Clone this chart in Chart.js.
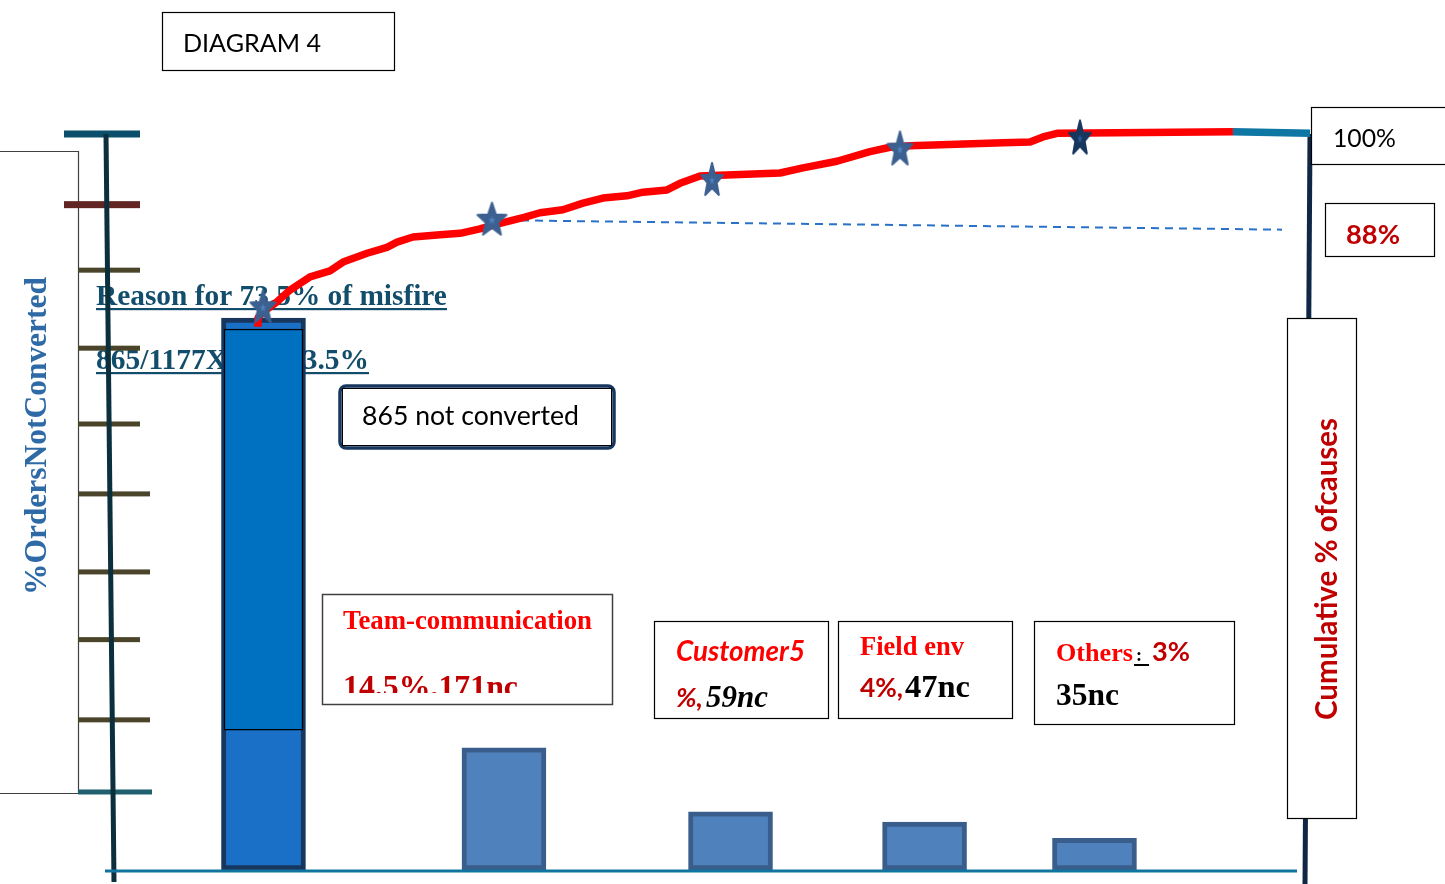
<!DOCTYPE html>
<html>
<head>
<meta charset="utf-8">
<title>Diagram 4</title>
<script src="https://cdn.jsdelivr.net/npm/chart.js@4.4.0/dist/chart.umd.min.js"></script>
<style>
  html, body { margin: 0; padding: 0; background: #fff; }
  #wrap { width: 1445px; height: 884px; position: relative; }
</style>
</head>
<body>
<div id="wrap"><canvas id="paretoChart" width="1445" height="884"></canvas></div>
<script>
//  Pareto sketch of the orders that were not converted (1177 orders)

//  Bars: where each cause sits on the sketch's horizontal scale (0..100) and its height in %
var causeNames = ['865 not converted', 'Team-communication', 'Customer', 'Field env', 'Others'];
var causePos = [12.79, 32.83, 51.71, 67.88, 82.04];
var barPct = [75.0, 16.6, 7.9, 6.5, 4.3];
//  the 73.5% block drawn inside the first bar (from .. to, in %)
var firstBarBlock = [19.0, 73.5];

//  Cumulative % line
var cumX = [12.33, 12.33, 12.75, 13.92, 15.0, 16.67, 18.33, 19.42, 21.42, 23.08, 23.92, 25.25,
            27.5, 29.17, 30.83, 31.92, 33.33, 34.58, 35.83, 37.75, 39.42, 41.08, 43.08, 44.42,
            46.42, 47.5, 49.17, 50.83, 55.83, 57.75, 60.58, 63.33, 65.0, 66.67, 74.42, 76.67,
            77.75, 78.92, 93.58, 100];
var cumY = [73.8, 75.0, 75.8, 77.2, 78.8, 80.6, 81.4, 82.6, 83.8, 84.6, 85.3, 86.0,
            86.3, 86.5, 87.1, 87.6, 88.2, 88.7, 89.3, 89.7, 90.6, 91.3, 91.6, 92.1,
            92.4, 93.3, 94.3, 94.4, 94.7, 95.4, 96.3, 97.6, 98.2, 98.4, 98.8, 98.9,
            99.6, 100.1, 100.3, 100.1];

//  Star markers on the cumulative line
var starX = [12.75, 31.83, 50.17, 65.83, 80.83];
var starY = [76.6, 88.5, 93.9, 98.1, 99.6];

//  Dashed 88% guide
var guideX = [31.92, 97.67];
var guideY = [88.3, 87.0];

//  Tick marks on the left axis (%)
var leftTicks = [10.6, 20.4, 31.3, 40.5, 51.1, 60.6, 70.9, 81.5, 90.4, 100];

var SERIF = '"Liberation Serif", "Times New Roman", serif';
var SANS = 'Lato, "Open Sans", sans-serif';

//  size a font so that text spans the given width
function fitFont(ctx, text, width, style, family) {
    ctx.font = style + ' 100px ' + family;
    var w = ctx.measureText(text).width;
    return style + ' ' + (100 * width / w).toFixed(2) + 'px ' + family;
}

function putText(ctx, text, x, y, width, style, family, color, underline) {
    ctx.font = fitFont(ctx, text, width, style, family);
    ctx.fillStyle = color;
    ctx.textAlign = 'left';
    ctx.textBaseline = 'alphabetic';
    ctx.fillText(text, x, y);
    if (underline) {
        ctx.fillRect(x, y + 3, width, 2.2);
    }
}

function box(ctx, x, y, w, h, stroke, lw) {
    ctx.fillStyle = '#fff';
    ctx.fillRect(x, y, w, h);
    ctx.strokeStyle = stroke || '#000';
    ctx.lineWidth = lw || 1.2;
    ctx.strokeRect(x + 0.5, y + 0.5, w, h);
}

function makeStar(w, h, fill, core) {
    var cv = document.createElement('canvas');
    cv.width = w + 4;
    cv.height = h + 4;
    var g = cv.getContext('2d');
    var sx = w / 1.902, sy = h / 1.809;
    g.translate(cv.width / 2, 2 + sy);
    function path(k) {
        g.beginPath();
        for (var i = 0; i < 10; i++) {
            var r = (i % 2 ? 0.42 : 1) * k;
            var a = -Math.PI / 2 + i * Math.PI / 5;
            g.lineTo(Math.cos(a) * r * sx, Math.sin(a) * r * sy);
        }
        g.closePath();
    }
    path(1);
    g.fillStyle = fill;
    g.strokeStyle = fill;
    g.lineJoin = 'round';
    g.lineWidth = 2;
    g.fill();
    g.stroke();
    path(0.25);
    g.fillStyle = core;
    g.fill();
    return cv;
}

var starImages = [
    makeStar(25, 32, '#3c6090', '#4f81bd'),
    makeStar(29, 32, '#3c6090', '#4f81bd'),
    makeStar(22, 32, '#3c6090', '#4f81bd'),
    makeStar(25, 33, '#3c6090', '#4f81bd'),
    makeStar(22, 33, '#17375e', '#2a5a9a')
];

//  Axes, tick marks, text boxes: everything that is not a data mark
var sketchPlugin = {
    id: 'sketch',
    beforeDatasetsDraw: function (chart) {
        var c = chart.ctx, a = chart.chartArea, y = chart.scales.y;
        c.save();
        //  left title frame
        c.strokeStyle = '#404040';
        c.lineWidth = 1.2;
        c.beginPath();
        c.moveTo(0, 151.5); c.lineTo(78.5, 151.5); c.lineTo(78.5, 793.5); c.lineTo(0, 793.5);
        c.stroke();
        c.save();
        c.translate(46, 595);
        c.rotate(-Math.PI / 2);
        putText(c, '%OrdersNotConverted', 0, 0, 318, 'bold', SERIF, '#2e6aa6');
        c.restore();

        //  notes behind the first bar
        putText(c, 'Reason for 73.5% of misfire', 96, 305, 351, 'bold', SERIF, '#124d6b', true);
        putText(c, '865/1177X100=73.5%', 96, 369, 273, 'bold', SERIF, '#124d6b', true);

        //  left tick marks
        var tickColors = ['#1f5f6e', '#4a452a', '#4a452a', '#4a452a', '#4a452a', '#4a452a',
                          '#4a452a', '#4a452a', '#632523', '#0b4f6c'];
        var tickFrom = [78, 78, 78, 78, 78, 78, 78, 78, 64, 64];
        var tickTo = [152, 150, 140, 150, 150, 140, 140, 140, 140, 140];
        var tickW = [5, 5, 5, 5, 5, 5, 5, 5, 7, 7];
        leftTicks.forEach(function (v, i) {
            var py = y.getPixelForValue(v);
            c.fillStyle = tickColors[i];
            c.fillRect(tickFrom[i], py - tickW[i] / 2, tickTo[i] - tickFrom[i], tickW[i]);
        });
        //  left axis (slightly slanted, as drawn)
        c.strokeStyle = '#0b2f3c';
        c.lineWidth = 5;
        c.beginPath();
        c.moveTo(a.left - 4, a.top);
        c.lineTo(a.left + 4, a.bottom + 12);
        c.stroke();
        //  right axis
        c.strokeStyle = '#0f2744';
        c.beginPath();
        c.moveTo(a.right, a.top);
        c.lineTo(a.right - 5, a.bottom + 16);
        c.stroke();
        c.restore();
    },
    afterDatasetsDraw: function (chart) {
        var c = chart.ctx, a = chart.chartArea;
        c.save();
        //  bottom axis
        c.fillStyle = '#1174a0';
        c.fillRect(a.left - 5, a.bottom - 0.5, a.right - a.left - 8, 3);

        //  title
        box(c, 162, 12, 232, 58);
        putText(c, 'DIAGRAM 4', 183, 52, 138, 'normal', SANS, '#000');

        //  865 not converted
        c.fillStyle = '#fff';
        c.strokeStyle = '#17375e';
        c.lineWidth = 3.5;
        c.beginPath();
        c.roundRect(340, 386, 274, 62, 6);
        c.fill();
        c.stroke();
        c.strokeStyle = '#000';
        c.lineWidth = 1;
        c.strokeRect(342.5, 388.5, 269, 57);
        putText(c, '865 not converted', 362, 425, 217, 'normal', SANS, '#000');

        //  Team-communication
        box(c, 322, 594, 290, 110, '#404040', 1.5);
        putText(c, 'Team-communication', 343, 629, 249, 'bold', SERIF, '#ff0000');
        c.save();
        c.beginPath();
        c.rect(323, 600, 288, 93);
        c.clip();
        putText(c, '14.5%,171nc', 343, 697, 175, 'bold', SERIF, '#c00000');
        c.restore();

        //  Customer
        box(c, 654, 621, 174, 97);
        putText(c, 'Customer5', 676, 661, 129, 'italic bold', SANS, '#ff0000');
        putText(c, '%,', 676, 707, 27, 'italic bold', SANS, '#c00000');
        putText(c, '59nc', 706, 707, 62, 'italic bold', SERIF, '#000');

        //  Field env
        box(c, 838, 621, 174, 97);
        putText(c, 'Field env', 860, 655, 104, 'bold', SERIF, '#ff0000');
        putText(c, '4%,', 860, 697, 43, 'bold', SANS, '#c00000');
        putText(c, '47nc', 905, 697, 65, 'bold', SERIF, '#000');

        //  Others
        box(c, 1034, 621, 200, 103);
        putText(c, 'Others', 1056, 661, 77, 'bold', SERIF, '#ff0000');
        putText(c, ':', 1136, 661, 6, 'bold', SERIF, '#000');
        c.fillStyle = '#000';
        c.fillRect(1134, 664, 15, 2);
        putText(c, '3%', 1152, 661, 38, 'bold', SANS, '#c00000');
        putText(c, '35nc', 1056, 705, 63, 'bold', SERIF, '#000');

        //  right side labels
        box(c, 1311, 107, 140, 57);
        putText(c, '100%', 1333, 147, 63, 'normal', SANS, '#000');
        box(c, 1325, 203, 109, 53);
        putText(c, '88%', 1346, 244, 54, 'bold', SANS, '#c00000');
        box(c, 1287, 318, 69, 500);
        c.save();
        c.translate(1337, 720);
        c.rotate(-Math.PI / 2);
        putText(c, 'Cumulative % ofcauses', 0, 0, 302, 'bold', SANS, '#c00000');
        c.restore();
        c.restore();
    }
};

var barPoints = causePos.map(function (x, i) { return {x: x, y: barPct[i]}; });
var blockPoints = [{x: causePos[0], y: firstBarBlock}];
var cumPoints = cumX.map(function (x, i) { return {x: x, y: cumY[i]}; });
var starPoints = starX.map(function (x, i) { return {x: x, y: starY[i]}; });
var guidePoints = guideX.map(function (x, i) { return {x: x, y: guideY[i]}; });

new Chart(document.getElementById('paretoChart'), {
    type: 'bar',
    data: {
        datasets: [
            {
                label: 'Orders not converted (%)',
                data: barPoints,
                grouped: false,
                barThickness: 84,
                backgroundColor: ['#1a6fc6', '#4f81bd', '#4f81bd', '#4f81bd', '#4f81bd'],
                borderColor: ['#17375e', '#3a5e8c', '#3a5e8c', '#3a5e8c', '#3a5e8c'],
                borderWidth: 5,
                borderSkipped: false,
                order: 5
            },
            {
                label: '73.5% block',
                data: blockPoints,
                grouped: false,
                barThickness: 79,
                backgroundColor: '#0070c0',
                borderColor: '#000',
                borderWidth: 1.5,
                borderSkipped: false,
                order: 4
            },
            {
                type: 'line',
                label: '88% guide',
                data: guidePoints,
                borderColor: '#2a72c8',
                borderWidth: 2,
                borderDash: [8, 6],
                pointRadius: 0,
                clip: false,
                order: 3
            },
            {
                type: 'line',
                label: 'Cumulative %',
                data: cumPoints,
                borderColor: '#ff0000',
                borderWidth: 7.5,
                borderJoinStyle: 'round',
                tension: 0,
                pointRadius: 0,
                clip: false,
                segment: {
                    borderColor: function (ctx) {
                        return ctx.p1DataIndex === cumPoints.length - 1 ? '#0e77a3' : undefined;
                    }
                },
                order: 2
            },
            {
                type: 'scatter',
                label: 'Causes',
                data: starPoints,
                showLine: false,
                pointStyle: starImages,
                clip: false,
                order: 1
            }
        ]
    },
    options: {
        responsive: false,
        animation: false,
        devicePixelRatio: 1,
        layout: {padding: {left: 110, right: 135, top: 134, bottom: 14}},
        scales: {
            x: {type: 'linear', min: 0, max: 100, offset: false, display: false},
            y: {min: 0, max: 100, display: false}
        },
        plugins: {
            legend: {display: false},
            tooltip: {enabled: false}
        }
    },
    plugins: [sketchPlugin]
});
</script>
</body>
</html>
